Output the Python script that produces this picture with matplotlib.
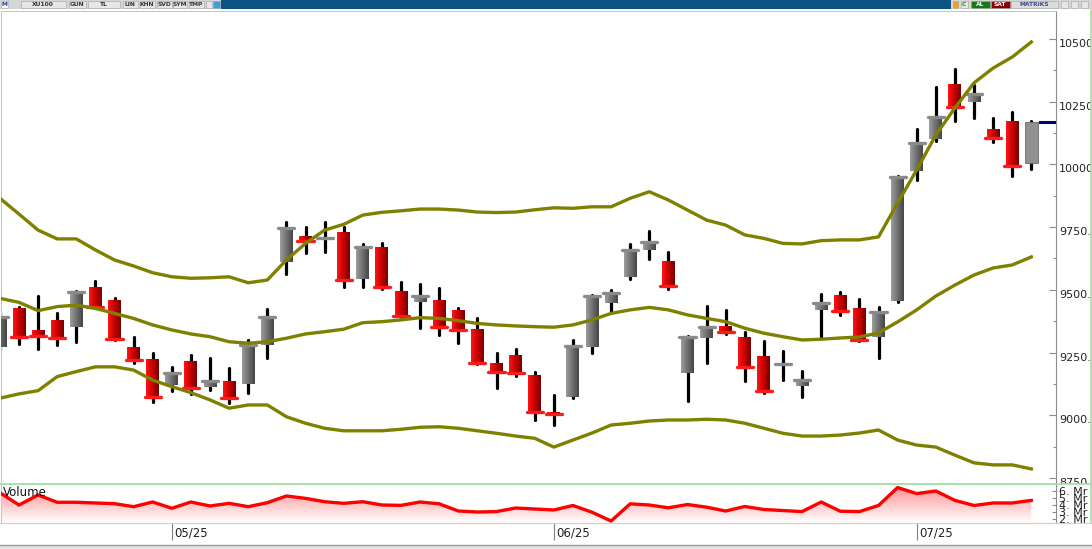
import matplotlib
matplotlib.use("Agg")
import matplotlib.pyplot as plt
import numpy as np
from matplotlib.patches import Rectangle
from matplotlib.lines import Line2D
from matplotlib.colors import LinearSegmentedColormap

# ---- data (XU100, daily) ----
opens = [9273, 9426, 9340, 9377, 9353, 9508, 9455, 9269, 9223, 9120,
         9213, 9114, 9134, 9123, 9280, 9612, 9715, 9699, 9729, 9542,
         9666, 9492, 9453, 9459, 9417, 9343, 9207, 9236, 9158, 9010,
         9074, 9273, 9449, 9552, 9659, 9615, 9167, 9307, 9353, 9309,
         9236, 9196, 9117, 9420, 9475, 9424, 9312, 9455, 9974, 10101,
         10317, 10250, 10137, 10170, 10007]
highs = [9410, 9432, 9475, 9409, 9497, 9535, 9466, 9313, 9249, 9193,
         9240, 9229, 9190, 9300, 9422, 9769, 9749, 9772, 9749, 9681,
         9685, 9530, 9522, 9506, 9426, 9389, 9247, 9263, 9173, 9081,
         9300, 9478, 9499, 9681, 9736, 9652, 9317, 9435, 9420, 9331,
         9296, 9257, 9176, 9483, 9490, 9465, 9432, 9955, 10140, 10310,
         10380, 10317, 10186, 10208, 10172]
lows = [9260, 9284, 9263, 9280, 9293, 9428, 9300, 9209, 9053, 9097,
        9083, 9101, 9047, 9090, 9227, 9563, 9646, 9652, 9512, 9510,
        9505, 9392, 9349, 9320, 9289, 9205, 9110, 9156, 8981, 8961,
        9067, 9247, 9413, 9542, 9623, 9503, 9058, 9209, 9324, 9136,
        9087, 9140, 9071, 9307, 9400, 9295, 9230, 9450, 9938, 10095,
        10174, 10184, 10091, 9954, 9982]
closes = [9393, 9313, 9317, 9307, 9492, 9430, 9303, 9220, 9074, 9167,
          9107, 9136, 9067, 9280, 9390, 9745, 9696, 9705, 9539, 9670,
          9510, 9396, 9475, 9353, 9340, 9209, 9173, 9167, 9014, 9004,
          9277, 9475, 9489, 9659, 9689, 9516, 9313, 9353, 9333, 9191,
          9097, 9204, 9140, 9449, 9415, 9300, 9410, 9950, 10084, 10190,
          10228, 10281, 10104, 9994, 10170]

upper_band = [9865, 9802, 9738, 9703, 9703, 9659, 9619, 9595, 9568, 9552,
              9546, 9548, 9552, 9528, 9539, 9619, 9685, 9738, 9761, 9798,
              9809, 9815, 9822, 9822, 9818, 9810, 9808, 9810, 9819, 9827,
              9825, 9831, 9831, 9865, 9891, 9858, 9818, 9778, 9758, 9719,
              9705, 9685, 9683, 9696, 9699, 9699, 9711, 9846, 9978, 10117,
              10225, 10325, 10384, 10428, 10488]
middle_band = [9466, 9450, 9417, 9433, 9439, 9426, 9406, 9386, 9360, 9340,
               9324, 9313, 9293, 9287, 9293, 9307, 9324, 9333, 9343, 9369,
               9373, 9380, 9389, 9386, 9377, 9366, 9360, 9356, 9353, 9351,
               9360, 9380, 9406, 9420, 9430, 9420, 9400, 9386, 9373, 9347,
               9327, 9313, 9300, 9303, 9308, 9312, 9328, 9372, 9420, 9475,
               9519, 9559, 9587, 9599, 9631]
lower_band = [9068, 9085, 9098, 9154, 9174, 9193, 9193, 9180, 9140, 9114,
              9090, 9061, 9028, 9041, 9041, 8994, 8968, 8948, 8938, 8938,
              8938, 8944, 8952, 8954, 8948, 8938, 8928, 8917, 8908, 8873,
              8901, 8929, 8961, 8968, 8977, 8981, 8981, 8984, 8981, 8968,
              8948, 8928, 8917, 8917, 8921, 8929, 8941, 8901, 8881, 8873,
              8841, 8810, 8802, 8802, 8786]

volume = [5.76, 4.0, 5.43, 4.39, 4.39, 4.29, 4.19, 3.76, 4.43, 3.53,
          4.43, 3.86, 4.24, 3.76, 4.33, 5.29, 4.95, 4.47, 4.24, 4.47,
          4.0, 3.95, 4.43, 4.17, 3.14, 3.0, 3.06, 3.57, 3.43, 3.29,
          3.93, 2.97, 1.71, 4.17, 4.0, 3.6, 4.07, 3.69, 3.14, 3.79,
          3.36, 3.21, 3.06, 4.43, 3.11, 3.06, 3.93, 6.49, 5.63, 6.0,
          4.66, 3.93, 4.29, 4.29, 4.66]

date_labels = ["05/25", "06/25", "07/25"]
date_index = [9, 29, 48]
price_ticks = [8750, 9000, 9250, 9500, 9750, 10000, 10250, 10500]
vol_ticks = [2, 3, 4, 5, 6]

# ---- layout helpers (pixels -> figure fraction) ----
W, H = 1092, 549
def fx(px):
    return px / W
def fy(py):
    return 1 - py / H

STEP = 19.1  # pixels per bar

fig = plt.figure(figsize=(W / 100, H / 100), dpi=100)
fig.patch.set_facecolor("white")

ax = fig.add_axes([fx(1), fy(484), fx(1056) - fx(1), fy(11) - fy(484)])
vax = fig.add_axes([fx(1), fy(523), fx(1056) - fx(1), fy(484) - fy(523)], zorder=6)

n = len(closes)
xs = np.arange(n)

red_cmap = LinearSegmentedColormap.from_list("red", ["#ff1414", "#c80000", "#760000"])
gray_cmap = LinearSegmentedColormap.from_list("gray", ["#9c9c9c", "#707070", "#464646"])
hgrad = np.linspace(0, 1, 32).reshape(1, -1)
bw = 0.34

for i, (o, h, l, c) in enumerate(zip(opens, highs, lows, closes)):
    ax.plot([i, i], [l, h], color="black", lw=2.3, solid_capstyle="round", zorder=2)
    lo, hi = min(o, c), max(o, c)
    if i == n - 1:
        ax.add_patch(Rectangle((i - bw, lo), 2 * bw, hi - lo, facecolor="#919191",
                               edgecolor="#6c6c6c", lw=0.6, zorder=3))
        continue
    down = c < o
    ax.imshow(hgrad, cmap=red_cmap if down else gray_cmap, extent=[i - bw, i + bw, lo, hi],
              aspect="auto", interpolation="bilinear", zorder=3)
    ax.plot([i - 0.42, i + 0.42], [c, c], color="#ff1a1a" if down else "#8a8a8a",
            lw=2.4, solid_capstyle="round", zorder=4)

for band in (upper_band, middle_band, lower_band):
    ax.plot(xs, band, color="#808000", lw=2.4, solid_joinstyle="round", zorder=5)

xl = (1.1 / STEP, 1056.1 / STEP)
ax.plot([n - 1 + 0.45, xl[1]], [closes[-1], closes[-1]], color="#000080", lw=2.2, zorder=6)

ax.set_xlim(*xl)
ax.set_ylim(8725.8, 10611.6)
ax.yaxis.tick_right()
ax.set_yticks(price_ticks)
ax.set_yticklabels([f"{v:.2f}" for v in price_ticks])
ax.set_yticks([v + 125 for v in price_ticks[:-1]], minor=True)
ax.tick_params(axis="y", which="major", direction="in", length=5, width=0.8,
               color="#8c8c8c", labelsize=8, pad=2, labelcolor="#222222")
ax.tick_params(axis="y", which="minor", direction="in", length=2.5, width=0.8, color="#8c8c8c")
for lbl in ax.get_yticklabels():
    lbl.set_verticalalignment("top")
ax.tick_params(axis="x", bottom=False, labelbottom=False)
for s in ("left", "top", "bottom"):
    ax.spines[s].set_color("#a8dca8")
ax.spines["right"].set_color("#8c8c8c")

# ---- volume panel ----
poly = vax.fill_between(xs, volume, 0, facecolor="none", edgecolor="none")
vgrad = np.linspace(0, 1, 64).reshape(-1, 1)
img = vax.imshow(vgrad, cmap=LinearSegmentedColormap.from_list("v", ["#ff8c8c", "#ffffff"]),
                 extent=[0, n - 1, 1.43, 7.0], aspect="auto", origin="upper", zorder=1)
img.set_clip_path(poly.get_paths()[0], transform=vax.transData)
vax.plot(xs, volume, color="#ff0000", lw=2.4, solid_joinstyle="round", zorder=3)
vax.set_xlim(*xl)
vax.set_ylim(1.43, 7.0)
vax.yaxis.tick_right()
vax.set_yticks(vol_ticks)
vax.set_yticklabels([f"{v}. Mr" for v in vol_ticks])
vax.tick_params(axis="y", direction="in", length=3, width=0.8, color="#8c8c8c",
                labelsize=8, pad=2, labelcolor="#222222")
vax.set_xticks(date_index)
vax.tick_params(axis="x", direction="out", length=12, width=0.8, color="#808080",
                labelbottom=False)
for lab, idx in zip(date_labels, date_index):
    vax.annotate(lab, xy=(idx, 0), xycoords=("data", "axes fraction"), xytext=(2, -7.5),
                 textcoords="offset points", ha="left", va="center", fontsize=8.5,
                 color="#222222", annotation_clip=False)
vax.text(0.002, 0.77, "Volume", transform=vax.transAxes, fontsize=8.5, va="center",
         color="#111111", zorder=5)
vax.spines["top"].set_color("#a8dca8")
vax.spines["left"].set_color("#a8dca8")
vax.spines["bottom"].set_color("#c8c8c8")
vax.spines["right"].set_color("#8c8c8c")

# ---- frame pieces / masks ----
fig.add_artist(Rectangle((fx(1056.5), fy(523)), fx(1090) - fx(1056.5), fy(484) - fy(523),
                         transform=fig.transFigure, facecolor="white", edgecolor="none", zorder=5))
fig.add_artist(Rectangle((fx(1090.5), 0), 1 - fx(1090.5), 1, transform=fig.transFigure,
                         facecolor="white", edgecolor="none", zorder=9))
fig.add_artist(Line2D([0, fx(1091)], [fy(484), fy(484)], transform=fig.transFigure,
                      color="#a8dca8", lw=1.2, zorder=10))
fig.add_artist(Line2D([fx(1090.5), fx(1090.5)], [fy(523), fy(10)], transform=fig.transFigure,
                      color="#a8dca8", lw=1.2, zorder=10))
fig.add_artist(Line2D([0, 1], [fy(523), fy(523)], transform=fig.transFigure,
                      color="#d0d0d0", lw=0.8, zorder=10))
fig.add_artist(Rectangle((0, 0), 1, fy(545), transform=fig.transFigure,
                         facecolor="#e4e4e4", edgecolor="none", zorder=10))
fig.add_artist(Line2D([0, 1], [fy(545), fy(545)], transform=fig.transFigure,
                      color="#9a9a9a", lw=1.0, zorder=10))

# ---- toolbar strip ----
fig.add_artist(Rectangle((0, fy(9)), 1, fy(0) - fy(9), transform=fig.transFigure,
                         facecolor="#d6d6d6", edgecolor="none", zorder=10))
fig.add_artist(Rectangle((fx(221), fy(9)), fx(951) - fx(221), fy(0) - fy(9),
                         transform=fig.transFigure, facecolor="#0d5384", edgecolor="none", zorder=11))
buttons = [("M", 0, 8, "white", "#1a3c8c"), ("XU100", 20, 66, "#e6e6e6", "#333333"),
           ("GUN", 68, 86, "#e6e6e6", "#333333"), ("TL", 87, 120, "#e6e6e6", "#333333"),
           ("LIN", 122, 138, "#e6e6e6", "#333333"), ("KHN", 139, 155, "#e6e6e6", "#333333"),
           ("SVD", 156, 172, "#e6e6e6", "#333333"), ("SYM", 172, 187, "#e6e6e6", "#333333"),
           ("TMP", 188, 204, "#e6e6e6", "#333333"), ("", 205, 212, "#e6e6e6", "#333333"),
           ("", 212, 220, "#3aa0e0", "#333333"),
           ("", 952, 958, "#f0a020", "#333333"), ("C", 960, 968, "#e6e6e6", "#1a8a1a"),
           ("AL", 970, 990, "#157a15", "white"), ("SAT", 990, 1010, "#8a0000", "white"),
           ("MATRiKS", 1010, 1058, "#dcdcdc", "#3a4a8a"), ("", 1060, 1068, "#e6e6e6", "#333333"),
           ("", 1070, 1078, "#e6e6e6", "#333333"), ("", 1080, 1088, "#e6e6e6", "#333333")]
for txt, x0, x1, bg, fg in buttons:
    fig.add_artist(Rectangle((fx(x0 + 0.5), fy(8)), fx(x1) - fx(x0 + 0.5), fy(1) - fy(8),
                             transform=fig.transFigure, facecolor=bg, edgecolor="#a0a0a0",
                             lw=0.4, zorder=12))
    if txt:
        fig.text(fx((x0 + x1) / 2), fy(4.6), txt, fontsize=4.3, ha="center", va="center",
                 color=fg, fontweight="bold", zorder=13)

fig.savefig("out.png", dpi=100, facecolor="white")
